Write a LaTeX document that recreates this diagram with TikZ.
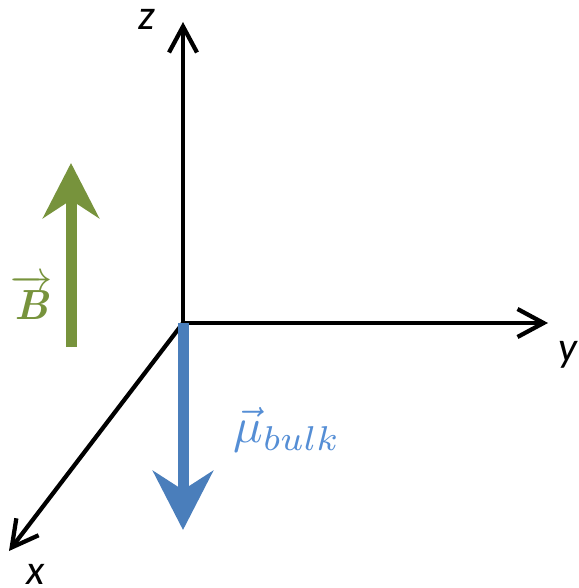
\documentclass[tikz,border=0pt]{standalone}
\usepackage{fontspec}
\usepackage{amsmath}
\usepackage{tikz}
\usetikzlibrary{arrows.meta}
\newfontfamily\axisfont{Carlito}
\definecolor{olive}{HTML}{77933C}
\definecolor{steel}{HTML}{4A7EBB}
\definecolor{skyblue}{HTML}{558ED5}
\tikzset{
  axis/.style={
    -{Straight Barb[length=5.2mm,width=5.6mm,line width=0.085cm]},
    draw=black,
    line width=0.085cm
  },
  field/.style={
    -{Stealth[length=1.1cm,width=1.12cm,inset=0.36cm]},
    draw=olive,
    fill=olive,
    line width=0.22cm
  },
  moment/.style={
    -{Stealth[length=1.18cm,width=1.2cm,inset=0.38cm]},
    draw=steel,
    fill=steel,
    line width=0.22cm
  },
  axislabel/.style={
    font=\axisfont\itshape\fontsize{24}{28}\selectfont,
    inner sep=0pt
  },
  vectorlabel/.style={
    inner sep=0pt
  }
}

\begin{document}
\begin{tikzpicture}[x=0.02cm,y=-0.02cm]
  \useasboundingbox (0,0) rectangle (578,588);

  \coordinate (origin) at (183,323);
  \coordinate (zend) at (183,22);
  \coordinate (yend) at (548,323);
  \coordinate (xend) at (9,551);
  \coordinate (Bstart) at (71,347);
  \coordinate (Bend) at (71,163);
  \coordinate (muend) at (183,530);

  \draw[axis] (origin) -- (zend);
  \draw[axis] (origin) -- (yend);
  \draw[axis] (origin) -- (xend);

  \draw[field] (Bstart) -- (Bend);
  \draw[moment] (origin) -- (muend);

  \node[axislabel] (zlabel) at (147,19) {z};
  \node[axislabel] (ylabel) at (568,355) {y};
  \node[axislabel] (xlabel) at (36,574) {x};

  \node[vectorlabel, text=olive] (Blabel) at (32,297)
    {\scalebox{2.4}{$\overrightarrow{\text{\bfseries\itshape B}}$}};
  \node[vectorlabel, text=skyblue] (mulabel) at (287,430)
    {\scalebox{2.8}{$\vec{\mu}_{bulk}$}};
\end{tikzpicture}
\end{document}
